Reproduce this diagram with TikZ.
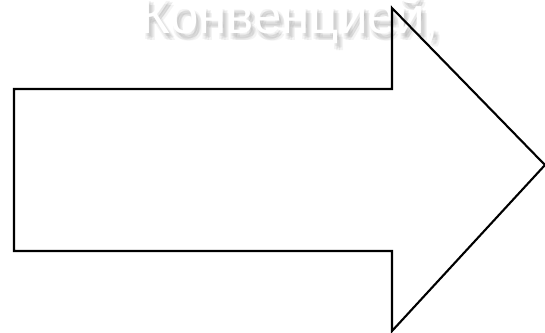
\documentclass[tikz,border=0pt]{standalone}
\usepackage{fontspec}
\setmainfont{Liberation Sans}
\usetikzlibrary {positioning}

\begin{document}
\begin{tikzpicture}[x=0.01cm,y=-0.01cm]
\useasboundingbox (0,0) rectangle (545,332);

\tikzset{title/.style={anchor=base west,inner sep=0pt,font=\fontsize{14.5}{16}\selectfont}}

% soft shadow under the title
\foreach \dx/\dy [count=\i] in {2/3,4/5,3/7,5/4,1/6,6/7}
  \node[title,text=black,opacity=0.045] (S\i) at (140+\dx,33+\dy) {Конвенцией,};

\node[title,text=white] (T) at (140,33) {Конвенцией,};

\coordinate (A1) at (14,89);

\coordinate (A2) at (392,89);

\coordinate (A3) at (392,8);

\coordinate (A4) at (545,165);

\coordinate (A5) at (392,331);

\coordinate (A6) at (392,251);

\coordinate (A7) at (14,251);

\draw[line width=0.6pt] (A1) -- (A2) -- (A3) -- (A4) -- (A5) -- (A6) -- (A7) -- cycle;

\end{tikzpicture}
\end{document}
